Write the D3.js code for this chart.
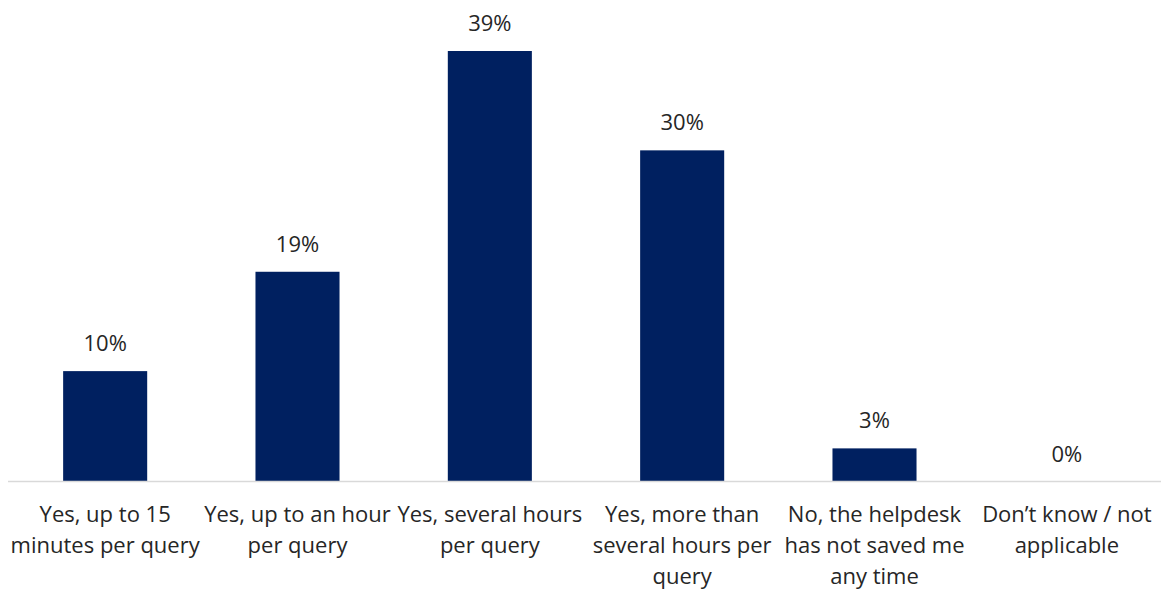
<!DOCTYPE html>
<html>
<head>
<meta charset="utf-8">
<script src="https://cdn.jsdelivr.net/npm/d3@7"></script>
<style>
  html, body { margin: 0; padding: 0; background: #fff; }
  svg { display: block; }
  text { font-family: "Open Sans", "Noto Sans", sans-serif; fill: #262626; }
</style>
</head>
<body>
<svg id="chart" width="1161" height="590"></svg>
<script>
// Survey answers: did the helpdesk save time per query?
const categories = [
  ["Yes, up to 15", "minutes per query"],
  ["Yes, up to an hour", "per query"],
  ["Yes, several hours", "per query"],
  ["Yes, more than", "several hours per", "query"],
  ["No, the helpdesk", "has not saved me", "any time"],
  ["Don\u2019t know / not", "applicable"]
];
const values = [10, 19, 39, 30, 3, 0];

const width = 1161, height = 590;
const margin = { left: 9, right: -2, top: 51, baseline: 481.5 };

const svg = d3.select("#chart");

const x = d3.scaleBand()
  .domain(d3.range(categories.length))
  .range([margin.left, width - margin.right])
  .paddingInner(0.563)
  .paddingOuter(0.2815);

const y = d3.scaleLinear()
  .domain([0, 39])
  .range([margin.baseline, margin.top]);

// bars
svg.append("g")
  .selectAll("rect")
  .data(values)
  .join("rect")
  .attr("x", (d, i) => x(i))
  .attr("width", x.bandwidth())
  .attr("y", d => y(d))
  .attr("height", d => y(0) - y(d))
  .attr("fill", "#002060");

// category axis baseline
svg.append("line")
  .attr("x1", 8).attr("x2", width)
  .attr("y1", y(0)).attr("y2", y(0))
  .attr("stroke", "#d9d9d9")
  .attr("stroke-width", 1.5);

// value labels
svg.append("g")
  .selectAll("text")
  .data(values)
  .join("text")
  .attr("x", (d, i) => x(i) + x.bandwidth() / 2)
  .attr("y", d => y(d) - 20)
  .attr("text-anchor", "middle")
  .attr("font-size", 22)
  .text(d => d + "%");

// category labels
const lab = svg.append("g")
  .selectAll("text")
  .data(categories)
  .join("text")
  .attr("x", (d, i) => x(i) + x.bandwidth() / 2)
  .attr("y", 522)
  .attr("text-anchor", "middle")
  .attr("font-size", 22);

lab.selectAll("tspan")
  .data(d => d)
  .join("tspan")
  .attr("x", function () { return d3.select(this.parentNode).attr("x"); })
  .attr("dy", (d, j) => j === 0 ? 0 : 31)
  .text(d => d);
</script>
</body>
</html>
